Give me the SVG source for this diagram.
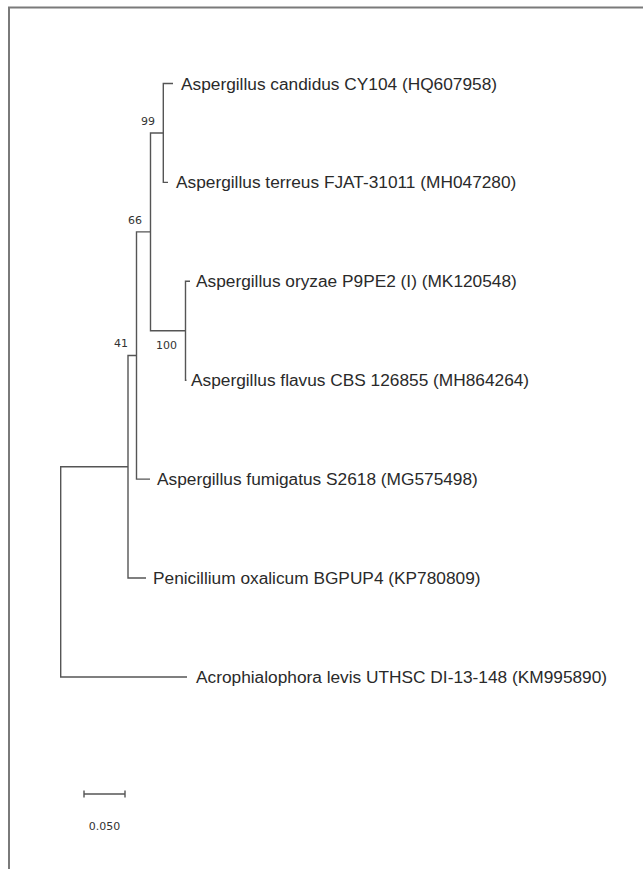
<svg xmlns="http://www.w3.org/2000/svg" width="643" height="869" viewBox="0 0 643 869">
<style>
.br{fill:none;stroke:#555;stroke-width:1.4}
.lab{font-family:"Liberation Sans",Arial,sans-serif;font-size:17.3px;fill:#2a2a2a}
.bs{font-family:"DejaVu Sans",Verdana,sans-serif;font-size:11px;fill:#333;text-anchor:end}
.frame{fill:none;stroke:#7a7a7a;stroke-width:2}
</style>
<rect width="643" height="869" fill="#fff"/>
<path class="frame" d="M9,869 V7.5 H643"/>
<g id="connectors">
<path class="br" d="M128,466.7 H60.7 V677 H187"/>
<path class="br" d="M136.5,355.5 H128 V578 H146"/>
<path class="br" d="M150.5,231.9 H136.5 V479.1 H150"/>
<path class="br" d="M163.3,133 H150.5 V330.7 H185.5"/>
<path class="br" d="M173,83.5 H163.3 V182.4 H168"/>
<path class="br" d="M190,281.3 H185.5 V380.2 H186.5"/>
</g>
<g id="leaf-candidus"><text class="lab" x="181" y="89.5">Aspergillus candidus CY104 (HQ607958)</text></g>
<g id="leaf-terreus"><text class="lab" x="176" y="188.4">Aspergillus terreus FJAT-31011 (MH047280)</text></g>
<g id="leaf-oryzae"><text class="lab" x="196" y="287.3">Aspergillus oryzae P9PE2 (I) (MK120548)</text></g>
<g id="leaf-flavus"><text class="lab" x="191" y="386.2">Aspergillus flavus CBS 126855 (MH864264)</text></g>
<g id="leaf-fumigatus"><text class="lab" x="157" y="485.1">Aspergillus fumigatus S2618 (MG575498)</text></g>
<g id="leaf-penicillium"><text class="lab" x="153" y="584">Penicillium oxalicum BGPUP4 (KP780809)</text></g>
<g id="leaf-acrophialophora"><text class="lab" x="196" y="683">Acrophialophora levis UTHSC DI-13-148 (KM995890)</text></g>
<g id="node-99"><text class="bs" x="155" y="125">99</text></g>
<g id="node-66"><text class="bs" x="142" y="223.5">66</text></g>
<g id="node-100"><text class="bs" x="177" y="348.5">100</text></g>
<g id="node-41"><text class="bs" x="128" y="346.5">41</text></g>
<g id="scale-bar">
<path class="br" d="M84,794 H125 M84,790.5 V797.5 M125,790.5 V797.5"/>
<text class="bs" x="104.5" y="829.5" style="text-anchor:middle">0.050</text>
</g>
</svg>
